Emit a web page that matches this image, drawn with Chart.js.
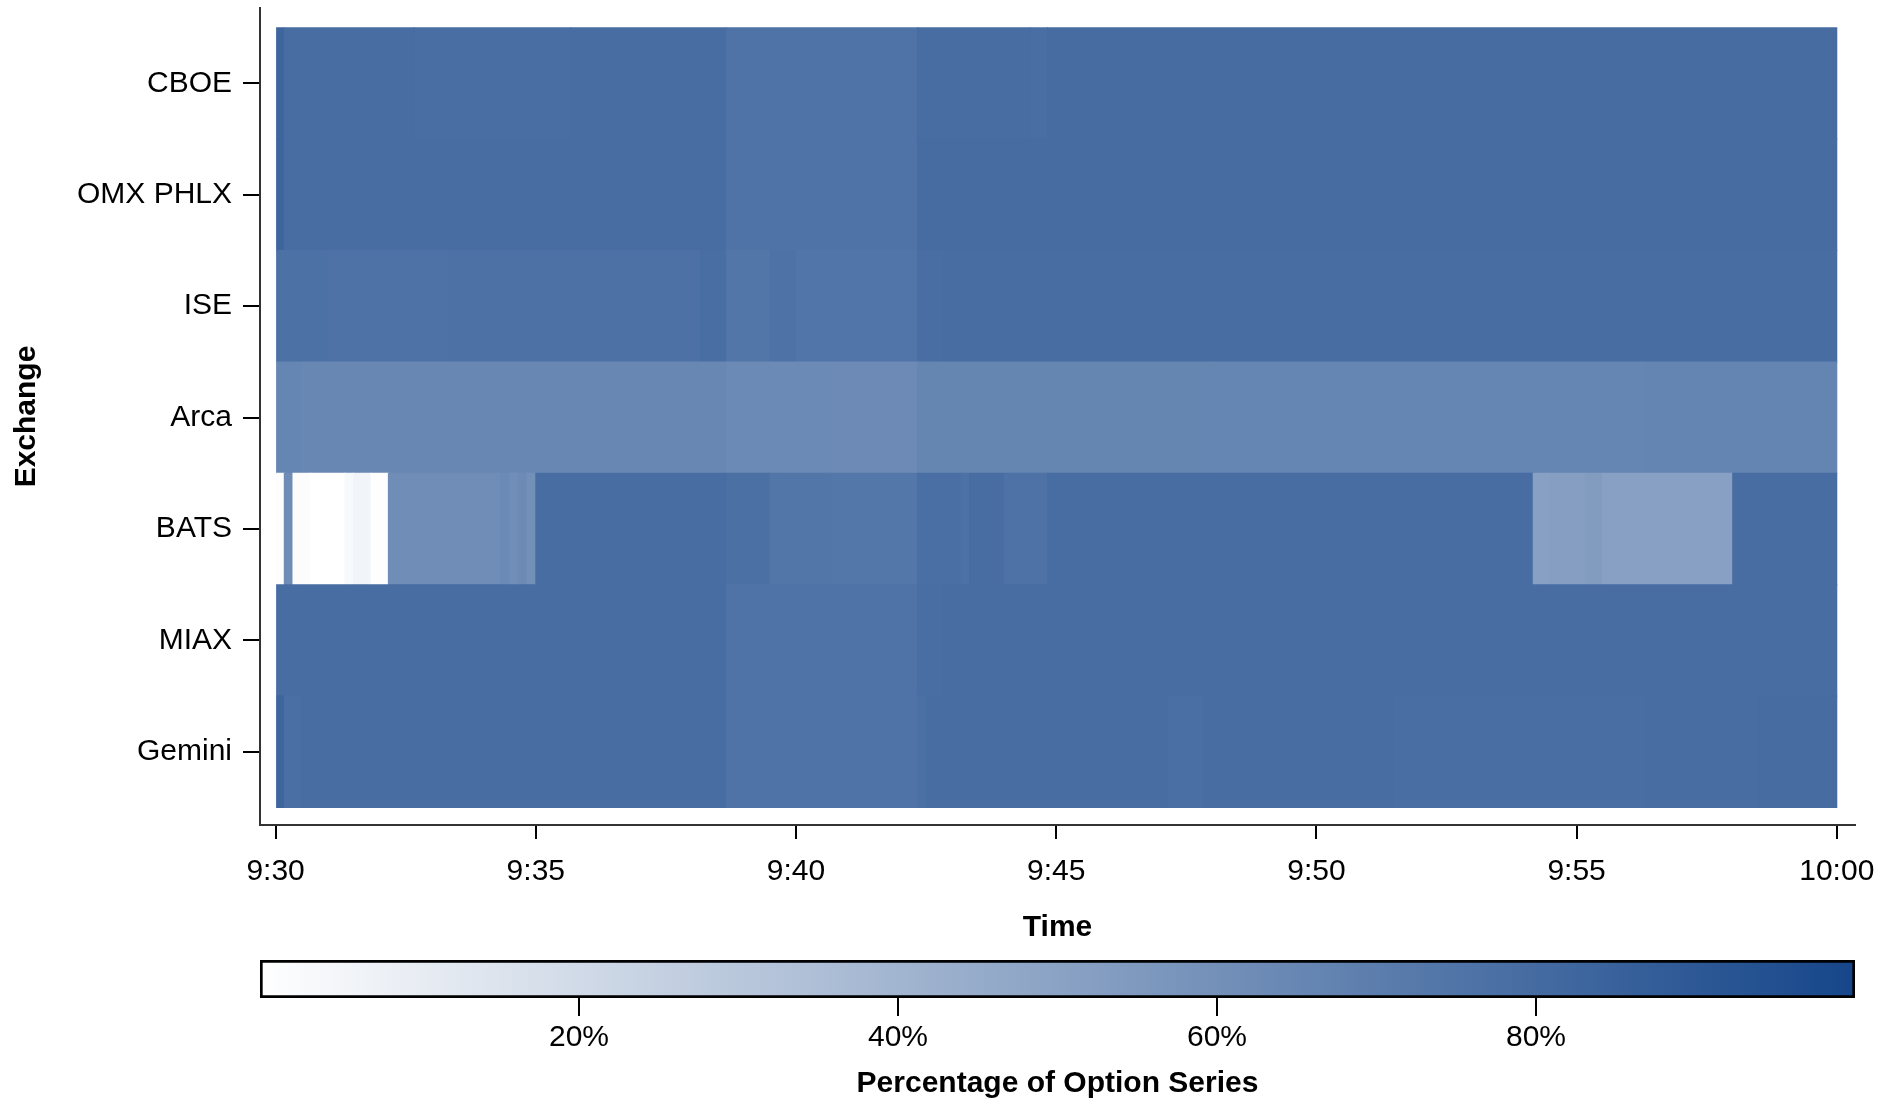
<!DOCTYPE html>
<html>
<head>
<meta charset="utf-8">
<title>Percentage of Option Series by Exchange</title>
<script src="https://cdn.jsdelivr.net/npm/chart.js@4.4.1/dist/chart.umd.min.js"></script>
<style>
  html, body { margin: 0; padding: 0; background: #fff; }
  #wrap { position: relative; width: 1898px; height: 1099px; }
  #heat { position: absolute; left: 0; top: 0; }
  #scale { position: absolute; left: 0; top: 945px; }
</style>
</head>
<body>
<div id="wrap">
  <canvas id="heat" width="1898" height="945"></canvas>
  <canvas id="scale" width="1898" height="154"></canvas>
</div>
<script>
// Exchanges, top to bottom
const exchanges = ['CBOE', 'OMX PHLX', 'ISE', 'Arca', 'BATS', 'MIAX', 'Gemini'];
// x axis in seconds after 9:30
const timeTicks = [0, 300, 600, 900, 1200, 1500, 1800];
const timeLabels = ['9:30', '9:35', '9:40', '9:45', '9:50', '9:55', '10:00'];
const pctTicks = [20, 40, 60, 80];
const cellSeconds = 10;

// runs of 10-second cells: [first cell, last cell, % of option series]
const cboe = [[0, 0, 83], [1, 15, 79], [16, 33, 78.5], [34, 51, 79], [52, 73, 75.5], [74, 86, 79], [87, 88, 78.5], [89, 179, 79.5]];
const omxPhlx = [[0, 0, 83], [1, 51, 79], [52, 73, 75.5], [74, 179, 79.5]];
const ise = [[0, 5, 77], [6, 19, 76], [20, 48, 76.5], [49, 51, 78.5], [52, 56, 74], [57, 59, 76], [60, 73, 74.5], [74, 76, 78.5], [77, 179, 79]];
const arca = [[0, 2, 66], [3, 51, 65], [52, 63, 63.5], [64, 73, 63], [74, 107, 65.5], [108, 157, 66], [158, 179, 66.5]];
const bats = [[0, 0, 1], [1, 1, 62], [2, 3, 1.5], [4, 7, 0], [8, 8, 3.5], [9, 10, 6], [11, 12, 0.5],
  [13, 25, 61.5], [26, 26, 63.5], [27, 27, 61], [28, 28, 63], [29, 29, 60], [30, 51, 79], [52, 56, 77.5],
  [57, 63, 74], [64, 73, 73.5], [74, 78, 78], [79, 79, 77], [80, 83, 79], [84, 88, 76], [89, 144, 79],
  [145, 146, 51.5], [147, 150, 52.5], [151, 152, 53.5], [153, 167, 51.5], [168, 179, 79]];
const miax = [[0, 51, 79], [52, 73, 75.5], [74, 76, 78.5], [77, 179, 79]];
const gemini = [[0, 0, 83], [1, 2, 78], [3, 51, 79], [52, 73, 75.5], [74, 74, 77.5], [75, 102, 79], [103, 106, 78],
  [107, 128, 79], [129, 157, 78.5], [158, 170, 79], [171, 179, 79.5]];
const rows = [cboe, omxPhlx, ise, arca, bats, miax, gemini];

const FONT = "'Liberation Sans', Arial, sans-serif";
const low = [255, 255, 255];
const high = [22, 70, 138];

function shade(p) {
  const t = p / 100;
  const c = low.map((l, i) => Math.round(l + (high[i] - l) * t));
  return `rgb(${c[0]},${c[1]},${c[2]})`;
}

function ramp(chart) {
  const a = chart.chartArea;
  if (!a) return shade(50);
  const g = chart.ctx.createLinearGradient(a.left, 0, a.right, 0);
  g.addColorStop(0, shade(0));
  g.addColorStop(1, shade(100));
  return g;
}

const cells = [];
rows.forEach((runs, r) => {
  runs.forEach(([a, b, p]) => {
    cells.push({ x: [a * cellSeconds, (b + 1) * cellSeconds], y: r, p: p });
  });
});

Chart.defaults.font.family = FONT;
Chart.defaults.color = '#000';

// Heatmap
new Chart(document.getElementById('heat'), {
  type: 'bar',
  data: {
    datasets: [{
      data: cells,
      backgroundColor: ctx => shade(ctx.raw.p),
      borderWidth: 0,
      barPercentage: 1,
      categoryPercentage: 1,
      inflateAmount: 0.5
    }]
  },
  options: {
    indexAxis: 'y',
    responsive: false,
    devicePixelRatio: 1,
    animation: false,
    events: [],
    layout: { padding: { left: 0, right: 43, top: 8, bottom: 0 } },
    plugins: { legend: { display: false }, tooltip: { enabled: false } },
    scales: {
      x: {
        type: 'linear',
        min: -18,
        max: 1821,
        afterBuildTicks: s => { s.ticks = timeTicks.map(v => ({ value: v })); },
        afterFit: s => { s.height = 120; },
        ticks: {
          callback: v => timeLabels[timeTicks.indexOf(v)],
          font: { size: 30 },
          padding: 15,
          maxRotation: 0,
          autoSkip: false
        },
        grid: { drawOnChartArea: false, tickLength: 14, lineWidth: 2, color: '#000' },
        border: { color: '#333', width: 2 },
        title: { display: true, text: 'Time', font: { size: 30, weight: 'bold', lineHeight: 1 }, padding: { top: 0, bottom: 2 } }
      },
      y: {
        type: 'linear',
        reverse: true,
        offset: false,
        min: -0.677,
        max: 6.657,
        afterBuildTicks: s => { s.ticks = exchanges.map((_, i) => ({ value: i })); },
        afterFit: s => { s.width = 260; s.paddingTop = 0; s.paddingBottom = 0; },
        ticks: { callback: v => exchanges[v], font: { size: 30 }, padding: 11, autoSkip: false },
        grid: { offset: false, drawOnChartArea: false, tickLength: 17, lineWidth: 2, color: '#000' },
        border: { color: '#333', width: 2 },
        title: { display: true, text: 'Exchange', font: { size: 30, weight: 'bold' }, padding: { top: 8.5, bottom: 0 } }
      }
    }
  }
});

// Colour scale
new Chart(document.getElementById('scale'), {
  type: 'bar',
  data: {
    datasets: [{
      data: [{ x: [0, 100], y: 0 }],
      backgroundColor: ctx => ramp(ctx.chart),
      borderColor: '#000',
      borderWidth: 3,
      borderSkipped: false,
      barPercentage: 1,
      categoryPercentage: 1
    }]
  },
  options: {
    indexAxis: 'y',
    responsive: false,
    devicePixelRatio: 1,
    animation: false,
    events: [],
    layout: { padding: { left: 260, right: 43, top: 15, bottom: 0 } },
    plugins: { legend: { display: false }, tooltip: { enabled: false } },
    scales: {
      x: {
        type: 'linear',
        min: 0,
        max: 100,
        afterBuildTicks: s => { s.ticks = pctTicks.map(v => ({ value: v })); },
        afterFit: s => { s.height = 101; },
        ticks: { callback: v => v + '%', font: { size: 30 }, padding: 4, maxRotation: 0, autoSkip: false },
        grid: { drawOnChartArea: false, tickLength: 18, lineWidth: 2, color: '#000' },
        border: { display: false },
        title: { display: true, text: 'Percentage of Option Series', font: { size: 30, weight: 'bold', lineHeight: 1 }, padding: { top: 0, bottom: 0 } }
      },
      y: {
        type: 'linear',
        display: false,
        offset: false,
        min: -0.5,
        max: 0.5,
        afterBuildTicks: s => { s.ticks = [{ value: 0 }]; }
      }
    }
  }
});
</script>
</body>
</html>
